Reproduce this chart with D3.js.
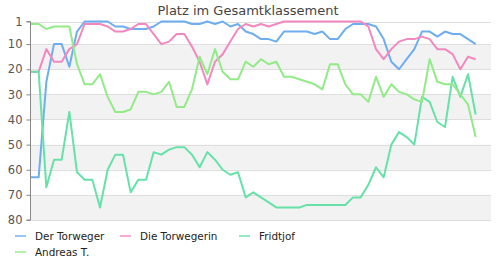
<!DOCTYPE html>
<html>
<head>
<meta charset="utf-8">
<script src="https://cdn.jsdelivr.net/npm/d3@7"></script>
<style>
  body { margin: 0; background: #fff; }
  svg  { display: block; font-family: "DejaVu Sans", sans-serif; }
</style>
</head>
<body>
<svg id="svg" width="500" height="265"></svg>
<script>
// Platz im Gesamtklassement, eine Etappe pro Punkt
const seriesNames = ['Der Torweger', 'Die Torwegerin', 'Fridtjof', 'Andreas T.'];

const derTorweger = [63, 63, 25, 10, 10, 19, 5, 1, 1, 1, 1, 3, 3, 4, 4, 4, 3, 1, 1, 1,
                     1, 2, 2, 1, 2, 1, 3, 2, 5, 6, 8, 8, 9, 5, 5, 5, 5, 6, 5, 8,
                     8, 4, 2, 2, 2, 3, 8, 17, 20, 16, 12, 5, 5, 7, 5, 6, 6, 8, 10];

const dieTorwegerin = [21, 21, 12, 17, 17, 12, 10, 2, 2, 2, 3, 5, 5, 4, 2, 2, 6, 10, 9, 6,
                       6, 11, 17, 26, 17, 14, 9, 4, 2, 3, 2, 3, 2, 1, 1, 1, 1, 1, 1, 1,
                       1, 1, 1, 1, 3, 12, 16, 12, 9, 8, 8, 7, 8, 12, 12, 14, 20, 15, 16];

const fridtjof = [21, 21, 67, 56, 56, 37, 61, 64, 64, 75, 60, 54, 54, 69, 64, 64, 53, 54, 52, 51,
                  51, 54, 59, 53, 56, 60, 62, 61, 71, 69, 71, 73, 75, 75, 75, 75, 74, 74, 74, 74,
                  74, 74, 71, 71, 66, 59, 63, 50, 45, 47, 50, 31, 33, 41, 43, 23, 31, 22, 38];

const andreasT = [2, 2, 4, 3, 3, 3, 18, 26, 26, 22, 31, 37, 37, 36, 29, 29, 30, 29, 25, 35,
                  35, 28, 15, 22, 12, 21, 24, 24, 17, 19, 16, 18, 17, 23, 23, 24, 25, 26, 28, 18,
                  18, 26, 30, 30, 33, 23, 31, 26, 29, 30, 32, 33, 16, 25, 26, 26, 30, 34, 47];

const yTicks = [1, 10, 20, 30, 40, 50, 60, 70, 80];

const COLORS = ['#6eaef0', '#f288bf', '#66e2a8', '#92ea88'];

const W = 500, H = 265;
const M = { top: 21.5, right: 9, bottom: 45, left: 31 };

const svg = d3.select('#svg');

const allSeries = [derTorweger, dieTorwegerin, fridtjof, andreasT];
const series = seriesNames.map((name, i) => ({ name, values: allSeries[i], color: COLORS[i] }));

// --- Scales ---
// Etappen 1..59, Achse reicht bis 61
const x = d3.scaleLinear()
    .domain([1, 61])
    .range([M.left, W - M.right]);

const y = d3.scaleLinear()
    .domain([1, 80])
    .range([M.top, H - M.bottom]);

// --- Bands & grid ---
const bandG = svg.append('g');
for (let i = 1; i < yTicks.length - 1; i += 2) {
    bandG.append('rect')
        .attr('x', M.left)
        .attr('y', y(yTicks[i]))
        .attr('width', W - M.right - M.left)
        .attr('height', y(yTicks[i + 1]) - y(yTicks[i]))
        .attr('fill', '#f2f2f2');
}

svg.append('g')
    .selectAll('line')
    .data(yTicks).join('line')
    .attr('x1', M.left)
    .attr('x2', W - M.right)
    .attr('y1', d => Math.round(y(d)) + 0.5)
    .attr('y2', d => Math.round(y(d)) + 0.5)
    .attr('stroke', '#dedede');

// --- Y axis ---
const yAxis = svg.append('g')
    .attr('transform', `translate(${M.left - 0.5},0)`)
    .call(d3.axisLeft(y).tickValues(yTicks).tickSize(4).tickPadding(4));

yAxis.select('.domain').attr('stroke', '#888').attr('d', `M-4,${y(1)}H0V${y(80)}H-4`);
yAxis.selectAll('.tick line').attr('stroke', '#888');
yAxis.selectAll('.tick text')
    .attr('fill', '#555')
    .attr('font-size', '11.5px')
    .attr('font-family', '"DejaVu Sans", sans-serif');

// --- Lines ---
const line = d3.line()
    .x((d, i) => x(i + 1))
    .y(d => y(d));

svg.append('g')
    .selectAll('path')
    .data(series).join('path')
    .attr('fill', 'none')
    .attr('stroke', d => d.color)
    .attr('stroke-width', 2)
    .attr('stroke-linejoin', 'round')
    .attr('d', d => line(d.values));

// --- Title ---
svg.append('text')
    .attr('x', 248)
    .attr('y', 15)
    .attr('text-anchor', 'middle')
    .attr('font-size', '13px')
    .attr('fill', '#444')
    .text('Platz im Gesamtklassement');

// --- Legend ---
const legendPos = [[15, 236], [120, 236], [239, 236], [15, 252]];
const leg = svg.append('g')
    .selectAll('g')
    .data(series).join('g')
    .attr('transform', (d, i) => `translate(${legendPos[i][0]},${legendPos[i][1]})`);

leg.append('line')
    .attr('x1', 0).attr('x2', 11)
    .attr('stroke', d => d.color)
    .attr('stroke-opacity', 0.7)
    .attr('stroke-width', 2);

leg.append('text')
    .attr('x', 20)
    .attr('y', 4)
    .attr('font-size', '10.4px')
    .attr('fill', '#222')
    .text(d => d.name);
</script>
</body>
</html>
